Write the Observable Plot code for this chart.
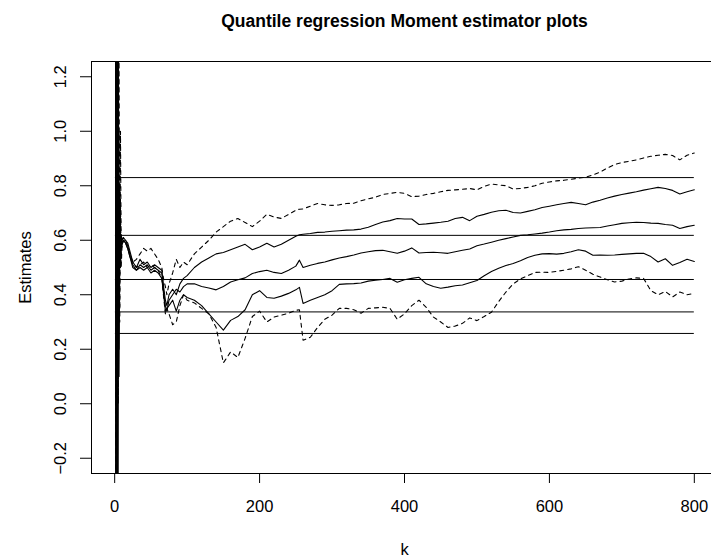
<!DOCTYPE html>
<html>
<head>
<meta charset="utf-8">
<script src="https://cdn.jsdelivr.net/npm/d3@7"></script>
<script src="https://cdn.jsdelivr.net/npm/@observablehq/plot@0.6"></script>
<style>
  html, body { margin: 0; padding: 0; background: #fff; overflow: hidden; }
  #chart svg { overflow: hidden; }
</style>
</head>
<body>
<div id="chart"></div>
<script>
// k grid (shared by all five curves)
const k = [1,2,3,4,5,6,7,8,9,10,12,15,18,21,25,30,35,40,45,50,55,60,65,68,70,72,75,80,85,90,95,100,
  110,120,130,140,150,160,170,180,190,200,210,220,230,240,250,255,
  260,270,280,290,300,310,320,330,340,350,360,370,380,390,400,410,420,430,440,450,
  460,470,480,490,500,510,520,530,540,550,560,570,580,590,600,610,620,630,640,650,
  660,670,680,690,700,710,720,730,740,750,760,770,780,790,800];

// upper dashed curve
const upperDashed = [-2,3,-1,2.5,0.0,1.3,0.3,1.0,0.55,0.6,
  0.61,0.6,0.58,0.55,0.52,0.53,0.55,0.57,0.56,0.57,0.55,0.53,0.5,0.45,0.43,0.4,0.44,0.48,0.53,0.5,0.52,0.51,
  0.55,0.575,0.6,0.63,0.65,0.67,0.68,0.665,0.65,0.67,0.695,0.685,0.68,0.695,0.71,0.714,
  0.715,0.725,0.735,0.73,0.728,0.73,0.735,0.736,0.745,0.752,
  0.758,0.768,0.772,0.776,0.772,0.76,0.762,0.768,0.772,0.778,
  0.783,0.785,0.787,0.79,0.785,0.798,0.806,0.803,0.8,0.788,
  0.79,0.794,0.8,0.809,0.814,0.818,0.82,0.824,0.828,0.831,
  0.84,0.85,0.865,0.878,0.885,0.89,0.895,0.902,0.908,0.912,
  0.915,0.911,0.895,0.912,0.92];

// upper solid curve
const upperSolid = [4,-2,3,-1,1.5,0.2,0.8,0.55,0.62,0.6,
  0.61,0.6,0.59,0.56,0.52,0.5,0.53,0.51,0.52,0.5,0.51,0.5,0.49,0.42,0.38,0.36,0.4,0.42,0.4,0.44,0.46,0.47,
  0.5,0.52,0.535,0.55,0.555,0.565,0.575,0.585,0.565,0.575,0.589,0.575,0.585,0.6,0.615,0.62,
  0.622,0.625,0.629,0.63,0.633,0.635,0.637,0.638,0.641,0.648,
  0.658,0.667,0.672,0.68,0.678,0.678,0.658,0.66,0.663,0.666,
  0.67,0.68,0.684,0.672,0.688,0.695,0.703,0.708,0.71,0.702,
  0.7,0.706,0.712,0.72,0.725,0.73,0.735,0.739,0.735,0.73,
  0.74,0.747,0.755,0.762,0.768,0.773,0.778,0.784,0.789,0.794,
  0.79,0.783,0.77,0.778,0.785];

// middle solid curve
const middleSolid = [3.5,-1.5,2.5,-0.5,1.2,0.3,0.75,0.57,0.6,0.59,
  0.6,0.59,0.57,0.54,0.51,0.49,0.51,0.5,0.51,0.49,0.5,0.49,0.48,0.4,0.36,0.34,0.38,0.4,0.42,0.41,0.43,0.44,
  0.44,0.43,0.425,0.418,0.43,0.447,0.455,0.462,0.478,0.485,0.49,0.482,0.478,0.49,0.505,0.527,
  0.5,0.508,0.515,0.52,0.528,0.535,0.54,0.546,0.553,0.558,
  0.562,0.563,0.558,0.552,0.56,0.572,0.553,0.555,0.556,0.554,
  0.552,0.558,0.563,0.568,0.58,0.586,0.593,0.6,0.606,0.612,
  0.618,0.62,0.623,0.626,0.63,0.635,0.638,0.64,0.643,0.645,
  0.646,0.647,0.652,0.657,0.662,0.664,0.666,0.665,0.663,0.662,
  0.658,0.655,0.643,0.65,0.655];

// lower solid curve
const lowerSolid = [2.5,-3,2,-1.5,1.0,0.1,0.7,0.5,0.6,0.58,
  0.6,0.59,0.57,0.54,0.5,0.49,0.5,0.49,0.5,0.48,0.49,0.48,0.46,0.39,0.34,0.35,0.36,0.38,0.34,0.38,0.4,0.39,
  0.38,0.36,0.33,0.3,0.27,0.306,0.32,0.345,0.4,0.415,0.39,0.387,0.395,0.405,0.418,0.427,
  0.368,0.38,0.39,0.4,0.415,0.438,0.44,0.441,0.443,0.45,
  0.453,0.456,0.46,0.446,0.455,0.46,0.464,0.44,0.43,0.424,
  0.428,0.433,0.436,0.444,0.452,0.47,0.485,0.497,0.507,0.515,
  0.525,0.537,0.545,0.55,0.551,0.549,0.552,0.558,0.565,0.56,
  0.545,0.546,0.545,0.546,0.548,0.55,0.552,0.552,0.54,0.52,
  0.532,0.508,0.518,0.53,0.522];

// lower dashed curve
const lowerDashed = [-2.5,2,-1,1.8,0.2,1.0,0.35,0.75,0.5,0.57,
  0.6,0.6,0.58,0.55,0.52,0.5,0.51,0.52,0.5,0.51,0.5,0.49,0.46,0.38,0.33,0.35,0.33,0.29,0.3,0.36,0.4,0.38,
  0.37,0.35,0.33,0.28,0.15,0.19,0.17,0.24,0.32,0.34,0.3,0.318,0.325,0.332,0.343,0.345,
  0.233,0.244,0.28,0.31,0.325,0.35,0.35,0.345,0.332,0.35,
  0.352,0.354,0.35,0.31,0.33,0.36,0.38,0.354,0.318,0.3,
  0.28,0.285,0.295,0.315,0.305,0.32,0.336,0.375,0.41,0.44,
  0.458,0.47,0.482,0.483,0.482,0.486,0.49,0.495,0.503,0.49,
  0.475,0.465,0.455,0.447,0.45,0.458,0.462,0.46,0.415,0.4,
  0.412,0.392,0.41,0.4,0.405];

// horizontal reference levels
const hLevels = [0.830, 0.618, 0.456, 0.337, 0.258];

const xTicks = [0, 200, 400, 600, 800];
const yTicks = [-0.2, 0.0, 0.2, 0.4, 0.6, 0.8, 1.0, 1.2];

const titleText = "Quantile regression Moment estimator plots";
const xLabel = "k";
const yLabel = "Estimates";

const seriesList = [
  {name: "upperDashed", values: upperDashed, dashed: true},
  {name: "upperSolid", values: upperSolid, dashed: false},
  {name: "middleSolid", values: middleSolid, dashed: false},
  {name: "lowerSolid", values: lowerSolid, dashed: false},
  {name: "lowerDashed", values: lowerDashed, dashed: true}
];
const rows = seriesList.flatMap(s => k.map((kk, i) => ({k: kk, v: s.values[i], s: s.name, dashed: s.dashed})));
const solidRows = rows.filter(d => !d.dashed);
const dashedRows = rows.filter(d => d.dashed);

const FONT = "'Liberation Sans', Arial, Helvetica, sans-serif";

const chart = Plot.plot({
  width: 711,
  height: 557,
  marginLeft: 91,
  marginRight: -6,
  marginTop: 61,
  marginBottom: 84,
  style: {fontFamily: FONT, background: "#fff", color: "#000"},
  x: {domain: [-32, 832]},
  y: {domain: [-0.256, 1.256]},
  marks: [
    Plot.ruleY(hLevels, {y: d => d, x1: () => k[0], x2: () => k[k.length - 1], stroke: "#000", strokeWidth: 1}),
    Plot.line(solidRows, {x: "k", y: "v", z: "s", stroke: "#000", strokeWidth: 1.1, clip: true}),
    Plot.line(dashedRows, {x: "k", y: "v", z: "s", stroke: "#000", strokeWidth: 1.1, strokeDasharray: "4,4", clip: true}),
    Plot.frame({stroke: "#000", strokeWidth: 1}),
    Plot.axisX({ticks: xTicks, tickSize: 10, tickPadding: 17, fontSize: 16.5, tickFormat: d => String(d), label: null, stroke: "#000"}),
    Plot.axisY({ticks: yTicks, tickSize: 11, tickFormat: () => "", label: null, stroke: "#000"}),
    Plot.text(yTicks, {y: d => d, frameAnchor: "left", dx: -31, rotate: -90, text: d => d.toFixed(1).replace("-", "\u2212"), fontSize: 16.5, textAnchor: "middle", lineAnchor: "middle", fill: "#000"}),
    Plot.text([yLabel], {frameAnchor: "left", dx: -66, rotate: -90, text: d => d, fontSize: 16.5, textAnchor: "middle", lineAnchor: "middle", fill: "#000"}),
    Plot.text([xLabel], {frameAnchor: "bottom", dy: 76, text: d => d, fontSize: 16.5, textAnchor: "middle", lineAnchor: "middle", fill: "#000"}),
    Plot.text([titleText], {frameAnchor: "top", dy: -40, text: d => d, fontSize: 17.5, fontWeight: "bold", textAnchor: "middle", lineAnchor: "middle", fill: "#000"})
  ]
});
document.getElementById("chart").appendChild(chart);
</script>
</body>
</html>
